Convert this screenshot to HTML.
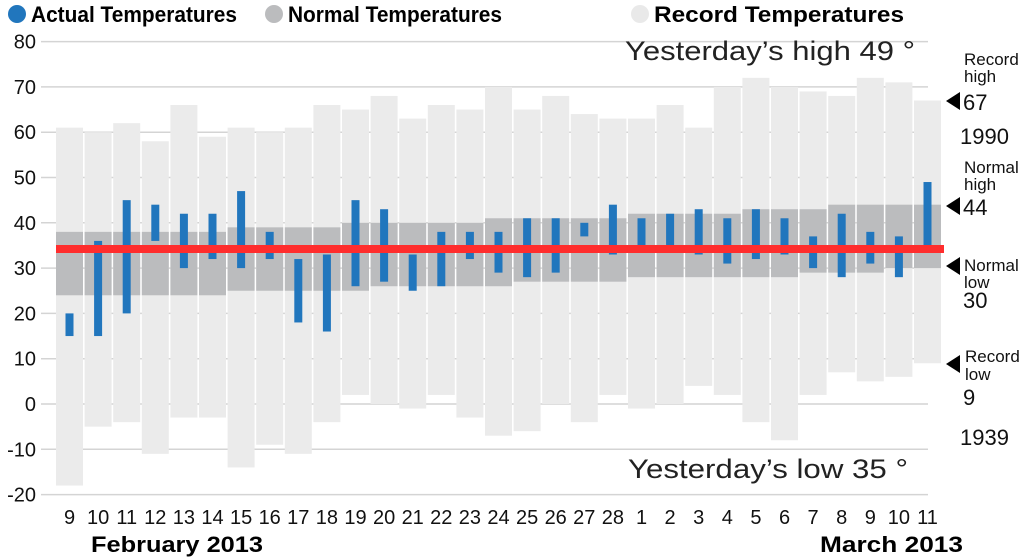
<!DOCTYPE html>
<html><head><meta charset="utf-8"><style>
html,body{margin:0;padding:0;background:#fff;}
svg{display:block;font-family:"Liberation Sans Narrow","Liberation Sans",sans-serif;}
</style></head><body>
<svg id="s" width="1024" height="560" viewBox="0 0 1024 560" xmlns="http://www.w3.org/2000/svg">
<rect width="1024" height="560" fill="#fff"/>
<g id="grid"></g>
<g id="cols"></g>
<rect x="56" y="245" width="888" height="8" fill="#ff2d2d"/>
<circle cx="17" cy="14" r="9" fill="#2176bd"/>
<text x="31" y="22" font-size="22" font-weight="bold" textLength="206" lengthAdjust="spacingAndGlyphs">Actual Temperatures</text>
<circle cx="274" cy="14" r="9" fill="#bbbcbe"/>
<text x="288" y="22" font-size="22" font-weight="bold" textLength="214" lengthAdjust="spacingAndGlyphs">Normal Temperatures</text>
<circle cx="640" cy="14" r="9" fill="#e9e9e9"/>
<text x="654" y="22" font-size="22" font-weight="bold" textLength="250" lengthAdjust="spacingAndGlyphs">Record Temperatures</text>
<text x="625" y="60" font-size="27" font-family="Liberation Sans, sans-serif" fill="#222" textLength="290" lengthAdjust="spacingAndGlyphs">Yesterday’s high 49 °</text>
<text x="628" y="478" font-size="27" font-family="Liberation Sans, sans-serif" fill="#222" textLength="280" lengthAdjust="spacingAndGlyphs">Yesterday’s low 35 °</text>
<g font-size="17" fill="#111">
<text x="964" y="65">Record</text><text x="964" y="82">high</text>
<polygon points="946,101 960,92 960,110" fill="#000"/><text x="963" y="110" font-size="22">67</text>
<text x="960" y="144" font-size="22">1990</text>
<text x="964" y="173">Normal</text><text x="964" y="190">high</text>
<polygon points="946,206 960,197 960,215" fill="#000"/><text x="963" y="215" font-size="22">44</text>
<text x="964" y="271">Normal</text><text x="964" y="288">low</text>
<polygon points="946,266 960,257 960,275" fill="#000"/><text x="963" y="308" font-size="22">30</text>
<text x="965" y="362">Record</text><text x="965" y="380">low</text>
<polygon points="946,364 960,355 960,373" fill="#000"/><text x="963" y="405" font-size="22">9</text>
<text x="960" y="445" font-size="22">1939</text>
</g>
<g id="labels" font-size="20" fill="#111"></g>
<text x="91" y="552" font-size="22" font-weight="bold" font-family="Liberation Sans, sans-serif" textLength="172" lengthAdjust="spacingAndGlyphs">February 2013</text>
<text x="820" y="552" font-size="22" font-weight="bold" font-family="Liberation Sans, sans-serif" textLength="143" lengthAdjust="spacingAndGlyphs">March 2013</text>
</svg>
<script>
var NS="http://www.w3.org/2000/svg";
function Y(v){return 404-4.53*v;}
function el(p,t,a,txt){var e=document.createElementNS(NS,t);for(var k in a)e.setAttribute(k,a[k]);if(txt!==undefined)e.textContent=txt;document.getElementById(p).appendChild(e);return e;}
for(var v=-20;v<=80;v+=10){var y=Y(v);
 el("grid","line",{x1:41,x2:928,y1:y,y2:y,stroke:"#d4d4d4","stroke-width":1.5});
 el("labels","text",{x:36,y:y+7,"text-anchor":"end"},String(v));}
var days=[9,10,11,12,13,14,15,16,17,18,19,20,21,22,23,24,25,26,27,28,1,2,3,4,5,6,7,8,9,10,11];
var rh=[61,60,62,58,66,59,61,60,61,66,65,68,63,66,65,70,65,68,64,63,63,66,61,70,72,70,69,68,72,71,67];
var rl=[-18,-5,-4,-11,-3,-3,-14,-9,-11,-4,2,0,-1,2,-3,-7,-6,0,-4,2,-1,0,4,2,-4,-8,2,7,5,6,9];
var nl=[24,24,24,24,24,24,25,25,25,25,25,26,26,26,26,26,27,27,27,27,28,28,28,28,28,28,29,29,29,30,30];
var nh=[38,38,38,38,38,38,39,39,39,39,40,40,40,40,40,41,41,41,41,41,42,42,42,42,43,43,43,44,44,44,44];
var al=[15,15,20,36,30,32,30,32,18,16,26,27,25,26,32,29,28,29,37,33,34,34,33,31,32,33,30,28,31,28,35];
var ah=[20,36,45,44,42,42,47,38,32,33,45,43,33,38,38,38,41,41,40,44,41,42,43,41,43,41,37,42,38,37,49];
for(var i=0;i<31;i++){var x=56+i*28.6;
 el("cols","rect",{x:x,y:Y(rh[i]),width:27,height:Y(rl[i])-Y(rh[i]),fill:"#ebebeb"});
 el("cols","rect",{x:x,y:Y(nh[i]),width:27,height:Y(nl[i])-Y(nh[i]),fill:"#bbbcbe"});
 el("cols","rect",{x:x+9.5,y:Y(ah[i]),width:8,height:Y(al[i])-Y(ah[i]),fill:"#2176bd"});
 el("labels","text",{x:x+13.5,y:524,"text-anchor":"middle"},String(days[i]));}
</script>
</body></html>
